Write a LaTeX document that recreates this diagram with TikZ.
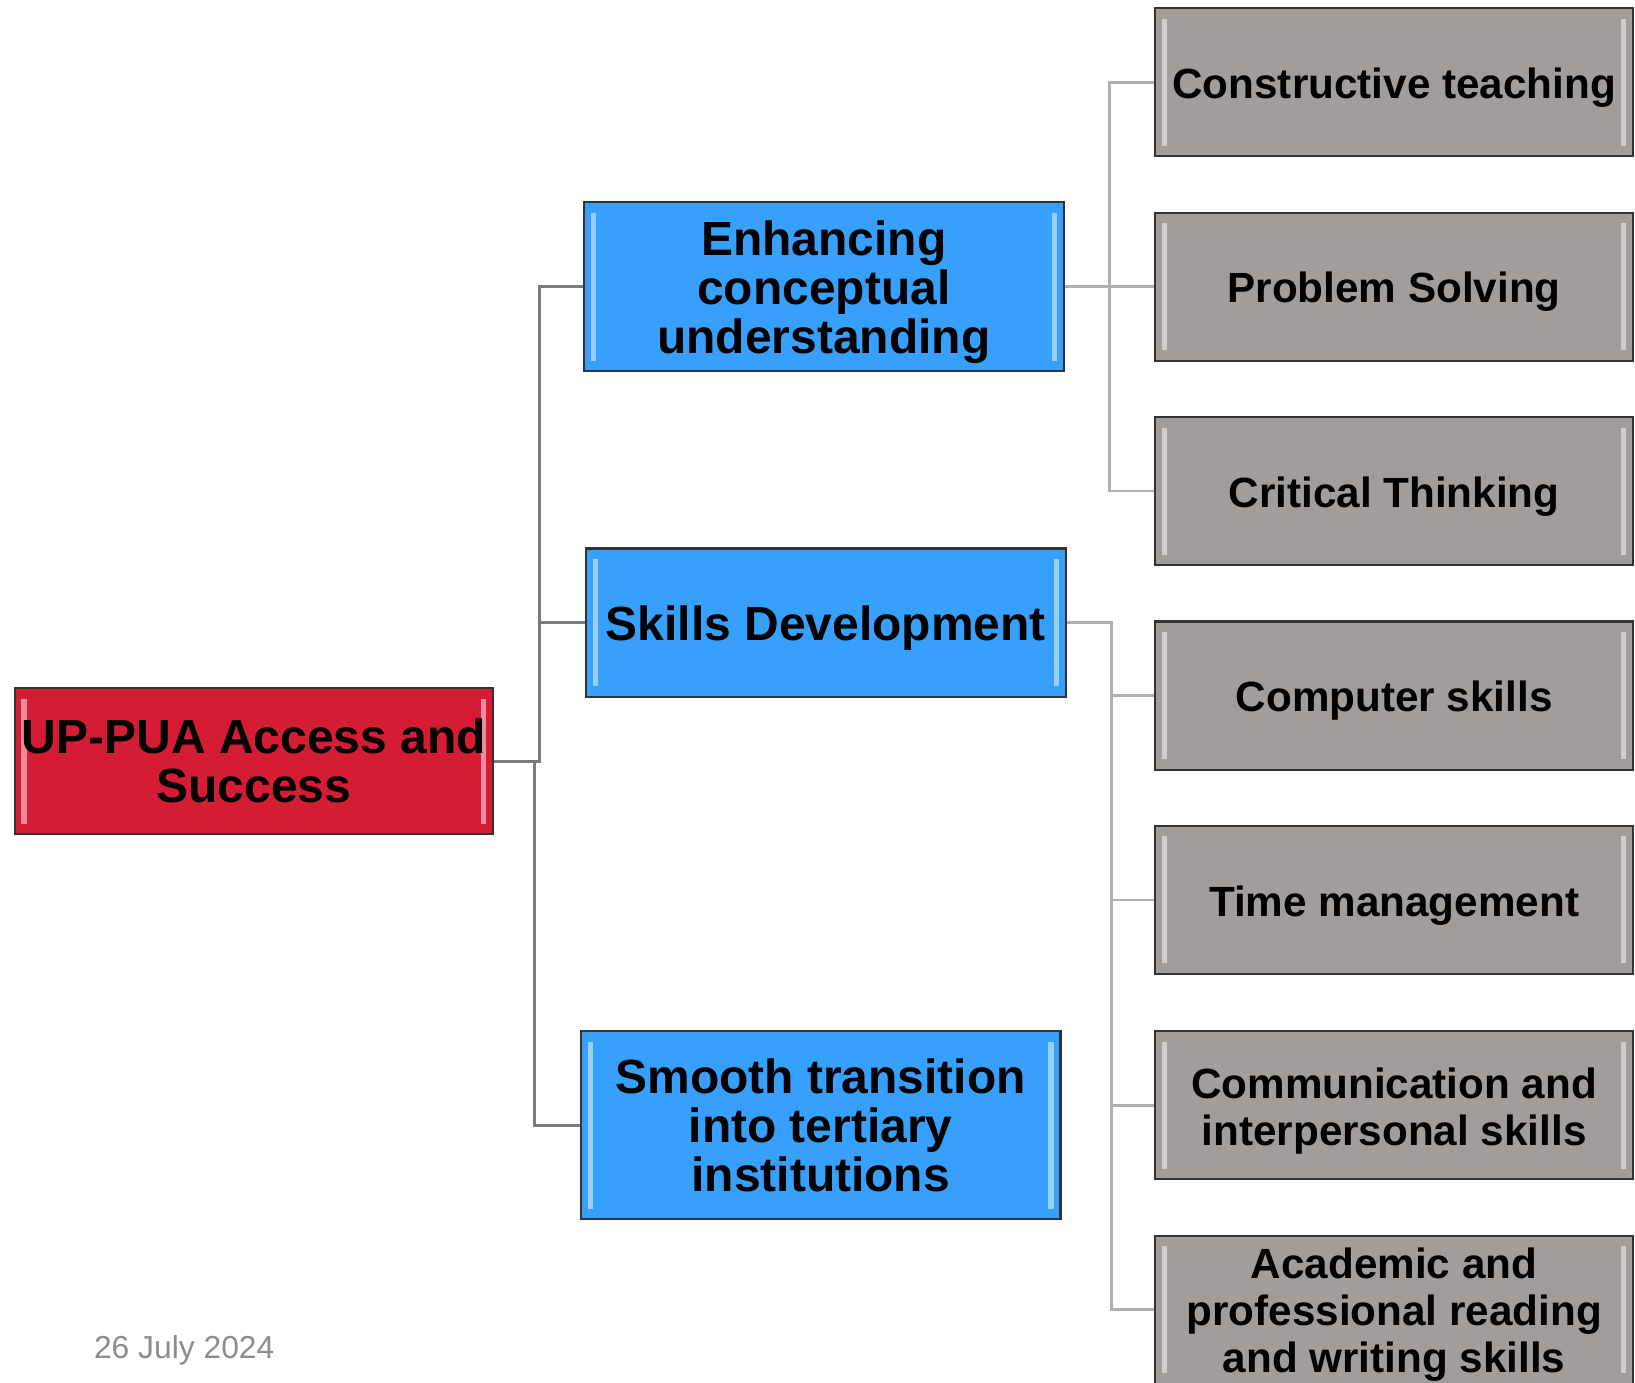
\documentclass[tikz,border=0pt]{standalone}
\usepackage{fontspec}
\setmainfont{Liberation Sans}
\definecolor{rootred}{HTML}{D51C35}
\definecolor{midblue}{HTML}{36A0FC}
\definecolor{leafgray}{HTML}{A19D9A}
\definecolor{linedark}{HTML}{7C7C80}
\definecolor{linelight}{HTML}{B0B0B0}
\definecolor{dategray}{HTML}{8C8C8C}
% raises the top of the first line so the text sits a little lower
\newcommand\liftline{\rule{0pt}{\dimexpr0.73em+10pt\relax}}
\tikzset{
  bevel/.style={draw=black!80, line width=2pt, inner sep=0pt, align=center,
    font=\bfseries\fontsize{46}{47}\selectfont,
    path picture={
      \draw[white, opacity=0.5, line width=5pt]
        ([xshift=9pt,yshift=-10pt]path picture bounding box.north west) --
        ([xshift=9pt,yshift=10pt]path picture bounding box.south west)
        ([xshift=-9pt,yshift=-10pt]path picture bounding box.north east) --
        ([xshift=-9pt,yshift=10pt]path picture bounding box.south east);
    }},
  rootbox/.style={bevel, fill=rootred, minimum width=459pt, minimum height=140pt},
  midbox/.style={bevel, fill=midblue, minimum width=460pt},
  leafbox/.style={bevel, fill=leafgray, minimum width=458pt, minimum height=142pt,
    font=\bfseries\fontsize{40.5}{45}\selectfont},
  trunk/.style={draw=linedark, line width=3pt},
  branch/.style={draw=linelight, line width=2.5pt},
}
\begin{document}
\begin{tikzpicture}[x=1pt, y=-1pt]
  \useasboundingbox (0,0) rectangle (1568,1326);
  \clip (0,0) rectangle (1568,1326);
  % main box
  \node[rootbox] (root) at (243.5,730) {UP-PUA Access and\\Success};
  % middle level
  \node[midbox, minimum height=162pt] (conc) at (790,275) {\liftline Enhancing\\conceptual\\understanding};
  \node[midbox, minimum height=142pt] (skill) at (792,597) {\liftline Skills Development};
  \node[midbox, minimum height=180pt] (trans) at (787,1079) {Smooth transition\\into tertiary\\institutions};
  % leaves on the right
  \foreach \n/\y/\t in {1/79/{Constructive teaching},
                        2/275/{Problem Solving},
                        3/471/{Critical Thinking},
                        4/667/{Computer skills},
                        5/863/{Time management},
                        6/1060/{Communication and\\interpersonal skills},
                        7/1256/{Academic and\\professional reading\\and writing skills}} {
    \node[leafbox] (leaf\n) at (1337,\y) {\liftline\t};
  }
  % connectors
  \foreach \m in {conc,skill} {
    \draw[trunk] (root.east) -- ++(43,0) |- (\m.west);
  }
  \draw[trunk] (root.east) -- ++(39,0) |- (trans.west);
  \foreach \n in {1,2,3} {
    \draw[branch] (conc.east) -- ++(43,0) |- (leaf\n.west);
  }
  \foreach \n in {4,...,7} {
    \draw[branch] (skill.east) -- ++(43,0) |- (leaf\n.west);
  }
  % date
  \node[font=\fontsize{30.5}{36}\selectfont, text=dategray, anchor=west, inner sep=0pt]
    (date) at (90,1295) {26 July 2024};
\end{tikzpicture}
\end{document}
